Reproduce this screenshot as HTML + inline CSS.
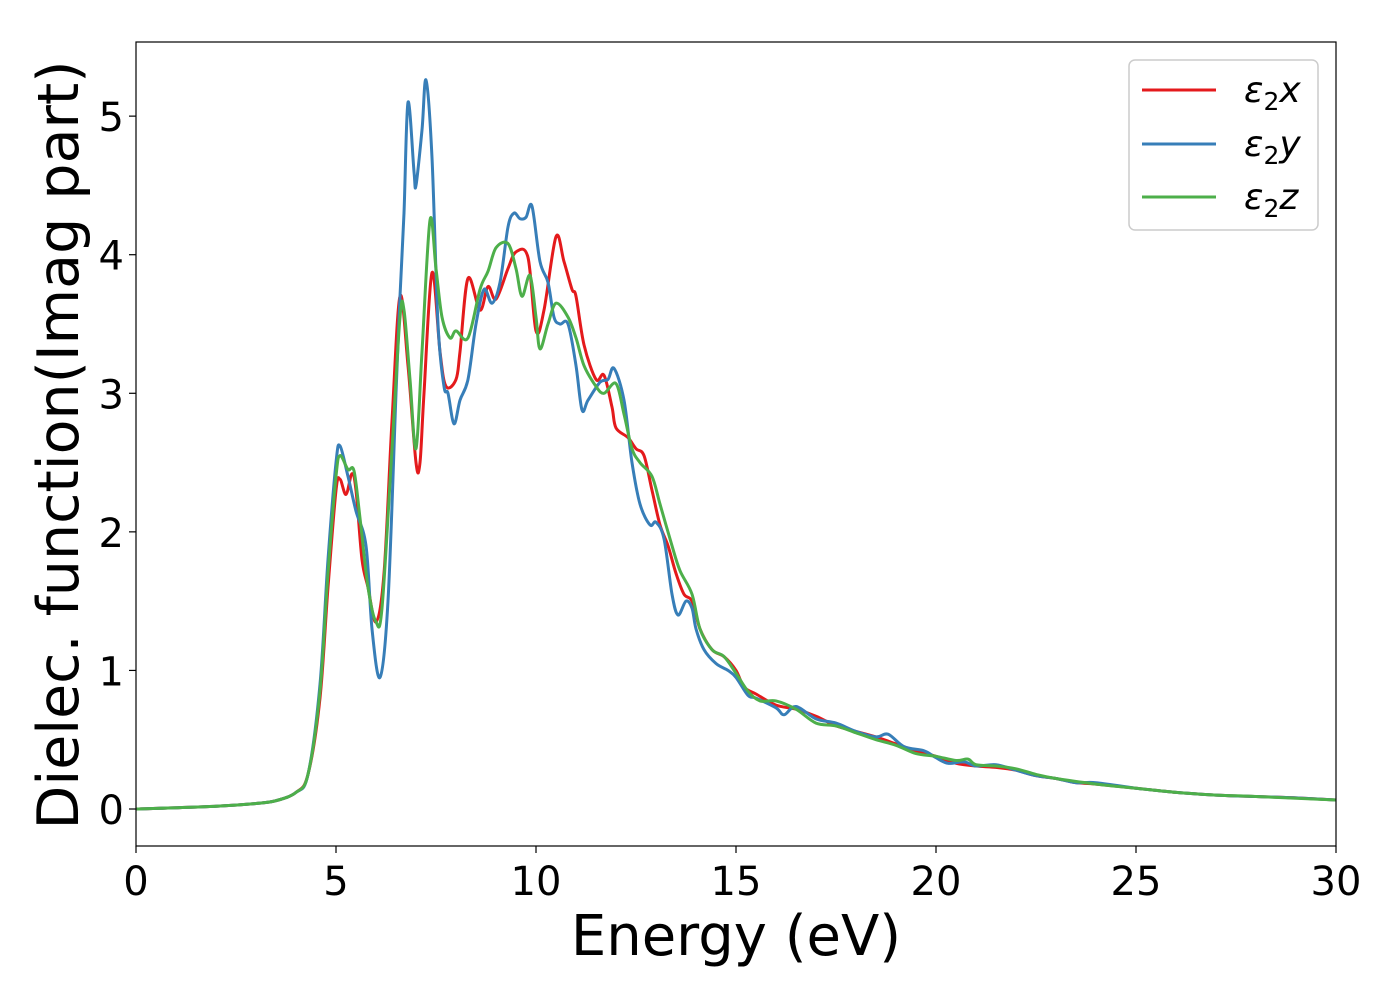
<!DOCTYPE html>
<html><head><meta charset="utf-8"><style>
html,body{margin:0;padding:0;background:#fff;}
svg{display:block;font-family:"DejaVu Sans","Liberation Sans",sans-serif;}
</style></head><body>
<svg id="chart" width="1400" height="1000" viewBox="0 0 1400 1000" xmlns="http://www.w3.org/2000/svg">
<rect x="0" y="0" width="1400" height="1000" fill="#fff"/>
<g id="plot"></g>
<g id="axes"></g>
<text x="736" y="955" font-size="56" text-anchor="middle">Energy (eV)</text>
<text x="0" y="0" font-size="57" text-anchor="middle" transform="translate(78,445) rotate(-90)">Dielec. function(Imag part)</text>
<g>
<rect x="1129" y="60" width="189" height="170" rx="6" fill="#fff" stroke="#ccc" stroke-width="1.5"/>
<line x1="1142" y1="90" x2="1216" y2="90" stroke="#e41a1c" stroke-width="3"/>
<text x="1244" y="102" font-size="36" font-style="italic">ε<tspan font-size="25" dy="8" font-style="normal">2</tspan><tspan dy="-8">x</tspan></text>
<line x1="1142" y1="144" x2="1216" y2="144" stroke="#377eb8" stroke-width="3"/>
<text x="1244" y="156" font-size="36" font-style="italic">ε<tspan font-size="25" dy="8" font-style="normal">2</tspan><tspan dy="-8">y</tspan></text>
<line x1="1142" y1="197" x2="1216" y2="197" stroke="#4daf4a" stroke-width="3"/>
<text x="1244" y="209" font-size="36" font-style="italic">ε<tspan font-size="25" dy="8" font-style="normal">2</tspan><tspan dy="-8">z</tspan></text>
</g>
</svg>
<script>
const xTicks=[0,5,10,15,20,25,30];
const yTicks=[0,1,2,3,4,5];
const energyX=[0,2,3,3.5,4,4.3,4.6,4.8,5.0,5.1,5.25,5.4,5.5,5.65,5.8,6.0,6.2,6.4,6.6,6.8,7.0,7.1,7.2,7.4,7.6,7.75,8.0,8.1,8.3,8.6,8.8,9.0,9.3,9.5,9.8,10.0,10.2,10.5,10.7,10.9,11.0,11.2,11.5,11.7,11.9,12.0,12.3,12.5,12.7,12.9,13.1,13.3,13.5,13.7,13.9,14.1,14.4,14.7,15.0,15.2,15.5,16,16.5,17,17.5,18,18.5,19,19.5,20,20.5,21,21.5,22,22.5,23,23.5,24,25,26,27,28,29,30];
const epsX=[0,0.02,0.04,0.06,0.12,0.25,0.8,1.6,2.3,2.38,2.27,2.42,2.3,1.8,1.6,1.35,1.7,2.8,3.7,3.2,2.5,2.5,3.0,3.87,3.3,3.05,3.1,3.3,3.83,3.6,3.77,3.68,3.9,4.02,3.98,3.45,3.6,4.13,3.95,3.75,3.7,3.35,3.1,3.13,2.9,2.75,2.68,2.6,2.55,2.3,2.05,1.9,1.7,1.55,1.5,1.3,1.15,1.1,1.0,0.88,0.83,0.75,0.72,0.67,0.6,0.56,0.52,0.47,0.42,0.38,0.33,0.31,0.3,0.28,0.24,0.22,0.19,0.18,0.15,0.12,0.1,0.09,0.08,0.065];
const energyY=[0,2,3,3.5,4,4.3,4.6,4.8,5.0,5.1,5.3,5.5,5.75,5.9,6.1,6.3,6.5,6.6,6.7,6.8,6.95,7.0,7.15,7.25,7.4,7.55,7.7,7.8,7.95,8.1,8.3,8.5,8.7,8.9,9.1,9.3,9.45,9.6,9.75,9.9,10.1,10.3,10.45,10.6,10.8,11.0,11.15,11.3,11.6,11.8,11.95,12.2,12.4,12.6,12.85,13.0,13.2,13.4,13.55,13.75,13.9,14.0,14.2,14.5,14.8,15.0,15.3,15.5,16,16.2,16.5,17,17.5,18,18.5,18.8,19.2,19.7,20,20.3,20.7,21,21.5,22,22.5,23,23.5,24,25,26,27,28,29,30];
const epsY=[0,0.02,0.04,0.06,0.12,0.25,0.9,1.8,2.5,2.62,2.4,2.15,1.9,1.3,0.95,1.5,3.0,3.7,4.3,5.1,4.6,4.5,4.9,5.26,4.7,3.5,3.05,3.0,2.78,2.95,3.1,3.5,3.75,3.65,3.8,4.2,4.3,4.26,4.27,4.35,3.95,3.8,3.55,3.5,3.5,3.2,2.88,2.95,3.08,3.1,3.18,2.95,2.5,2.2,2.05,2.07,1.95,1.55,1.4,1.5,1.45,1.3,1.15,1.05,1.0,0.95,0.82,0.8,0.73,0.68,0.74,0.65,0.62,0.56,0.52,0.54,0.45,0.42,0.37,0.33,0.34,0.31,0.32,0.28,0.24,0.22,0.19,0.19,0.15,0.12,0.1,0.09,0.08,0.065];
const energyZ=[0,2,3,3.5,4,4.3,4.6,4.8,5.0,5.1,5.3,5.45,5.6,5.8,6.0,6.15,6.4,6.6,6.7,6.85,7.0,7.15,7.35,7.5,7.65,7.85,8.0,8.3,8.6,8.8,9.0,9.3,9.5,9.65,9.85,10.0,10.1,10.3,10.5,10.8,11.0,11.2,11.5,11.7,12.0,12.2,12.4,12.6,12.9,13.1,13.4,13.6,13.9,14.1,14.4,14.7,15,15.3,15.6,16,16.5,17,17.5,18,18.5,19,19.5,20,20.5,20.8,21,21.5,22,22.5,23,24,25,26,27,28,30];
const epsZ=[0,0.02,0.04,0.06,0.12,0.25,0.85,1.7,2.4,2.55,2.45,2.44,2.1,1.6,1.35,1.45,2.6,3.55,3.6,3.1,2.6,3.3,4.25,3.9,3.55,3.4,3.45,3.4,3.75,3.88,4.05,4.08,3.9,3.7,3.85,3.55,3.32,3.5,3.65,3.55,3.4,3.2,3.05,3.0,3.07,2.85,2.6,2.5,2.4,2.2,1.9,1.72,1.55,1.3,1.15,1.1,0.98,0.85,0.78,0.78,0.72,0.62,0.6,0.55,0.5,0.46,0.4,0.38,0.35,0.36,0.32,0.31,0.29,0.25,0.22,0.18,0.15,0.12,0.1,0.09,0.065];

const L=136,R=1336,T=42,B=846;
const xmin=0,xmax=30,ymin=-0.267,ymax=5.535;
function sx(v){return L+(v-xmin)/(xmax-xmin)*(R-L);}
function sy(v){return B-(v-ymin)/(ymax-ymin)*(B-T);}
const NS='http://www.w3.org/2000/svg';
function mk(tag,attrs,parent){const e=document.createElementNS(NS,tag);for(const k in attrs)e.setAttribute(k,attrs[k]);parent.appendChild(e);return e;}
function pathFor(xs,ys){
  const p=xs.map((x,i)=>[sx(x),sy(ys[i])]);
  let d='M'+p[0][0].toFixed(1)+','+p[0][1].toFixed(1);
  for(let i=0;i<p.length-1;i++){
    const p0=p[i-1]||p[i],p1=p[i],p2=p[i+1],p3=p[i+2]||p[i+1];
    const t=6;
    const c1=[p1[0]+(p2[0]-p0[0])/t,p1[1]+(p2[1]-p0[1])/t];
    const c2=[p2[0]-(p3[0]-p1[0])/t,p2[1]-(p3[1]-p1[1])/t];
    d+='C'+c1[0].toFixed(1)+','+c1[1].toFixed(1)+' '+c2[0].toFixed(1)+','+c2[1].toFixed(1)+' '+p2[0].toFixed(1)+','+p2[1].toFixed(1);
  }
  return d;
}
const plot=document.getElementById('plot');
const defs=mk('defs',{},plot);
const cp=mk('clipPath',{id:'clip'},defs);
mk('rect',{x:L,y:T,width:R-L,height:B-T},cp);
const g=mk('g',{'clip-path':'url(#clip)'},plot);
const series=[[energyX,epsX,'#e41a1c','series-eps2-x'],[energyY,epsY,'#377eb8','series-eps2-y'],[energyZ,epsZ,'#4daf4a','series-eps2-z']];
series.forEach(s=>{
  const el=mk('path',{d:pathFor(s[0],s[1]),fill:'none',stroke:s[2],'stroke-width':3,'stroke-linejoin':'round'},g);
  
  
});
const axes=document.getElementById('axes');
const frame=mk('rect',{x:L,y:T,width:R-L,height:B-T,fill:'none',stroke:'#000','stroke-width':1.2},axes);


xTicks.forEach(v=>{
  const x=sx(v);
  mk('line',{x1:x,y1:B,x2:x,y2:B+7,stroke:'#000','stroke-width':1.2},axes);
  const t=mk('text',{x:x,y:B+49,'font-size':40,'text-anchor':'middle'},axes);
  t.textContent=v;
  
  
});
yTicks.forEach(v=>{
  const y=sy(v);
  mk('line',{x1:L-7,y1:y,x2:L,y2:y,stroke:'#000','stroke-width':1.2},axes);
  const t=mk('text',{x:L-12,y:y+15,'font-size':40,'text-anchor':'end'},axes);
  t.textContent=v;
  
  
});
</script>
</body></html>
